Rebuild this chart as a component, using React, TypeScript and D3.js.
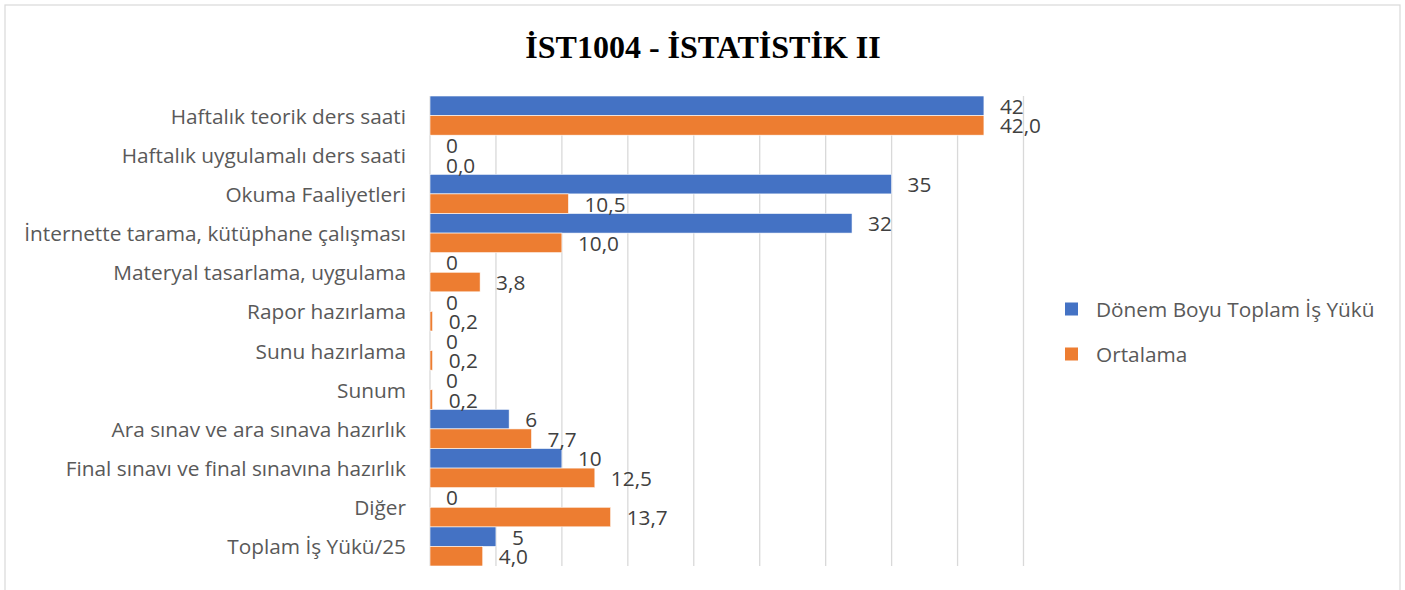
import React from "react";
import * as d3 from "d3";

const categories = [
  "Haftalık teorik ders saati",
  "Haftalık uygulamalı ders saati",
  "Okuma Faaliyetleri",
  "İnternette tarama, kütüphane çalışması",
  "Materyal tasarlama, uygulama",
  "Rapor hazırlama",
  "Sunu hazırlama",
  "Sunum",
  "Ara sınav ve ara sınava hazırlık",
  "Final sınavı ve final sınavına hazırlık",
  "Diğer",
  "Toplam İş Yükü/25",
];
const totalWorkload = [42, 0, 35, 32, 0, 0, 0, 0, 6, 10, 0, 5];
const average = [42.0, 0.0, 10.5, 10.0, 3.8, 0.2, 0.2, 0.2, 7.7, 12.5, 13.7, 4.0];
const seriesNames = ["Dönem Boyu Toplam İş Yükü", "Ortalama"];
const gridTicks = [0, 5, 10, 15, 20, 25, 30, 35, 40, 45];
const title = "İST1004 - İSTATİSTİK II";

const W = 1405;
const H = 590;
const colors = ["#4472C4", "#ED7D31"];
const FONT = "'Open Sans', sans-serif";
const FS = 20.8;

export default function App() {
  const x = d3.scaleLinear().domain([0, 45]).range([430, 1023.5]);
  const y = d3.scaleBand<string>().domain(categories).range([96, 566]).paddingInner(0).paddingOuter(0);
  const sub = d3.scaleBand<number>().domain([0, 1]).range([0, y.bandwidth()]).padding(0);
  const series = [totalWorkload, average];
  const fmt = [(v: number) => d3.format("d")(v), (v: number) => d3.format(".1f")(v).replace(".", ",")];

  return (
    <div style={{ position: "absolute", left: 0, top: 0 }}>
      <svg width={W} height={H} style={{ display: "block", background: "#fff" }}>
        <rect x={5} y={5} width={1395} height={600} fill="#fff" stroke="#d9d9d9" strokeWidth={1.2} />
        <text x={703} y={58} textAnchor="middle" fontFamily="'Liberation Serif', 'Times New Roman', serif" fontWeight="bold" fontSize={32} fill="#000">
          {title}
        </text>
        {gridTicks.map((t) => (
          <line key={t} x1={x(t)} x2={x(t)} y1={96} y2={566} stroke="#d9d9d9" strokeWidth={1.3} />
        ))}
        {series.map((vals, si) =>
          vals.map((v, i) => {
            const yy = (y(categories[i]) as number) + (sub(si) as number);
            return (
              <rect key={`${si}-${i}`} x={x(0)} y={yy} width={Math.max(0, x(v) - x(0))} height={sub.bandwidth()} fill={colors[si]} stroke="#fff" strokeWidth={0.6} />
            );
          })
        )}
        {categories.map((c) => (
          <text key={c} x={406} y={(y(c) as number) + y.bandwidth() / 2} textAnchor="end" dominantBaseline="central" fontFamily={FONT} fontSize={FS} fill="#595959">
            {c}
          </text>
        ))}
        {series.map((vals, si) =>
          vals.map((v, i) => {
            const yy = (y(categories[i]) as number) + (sub(si) as number) + sub.bandwidth() / 2;
            return (
              <text key={`l${si}-${i}`} x={x(v) + 16} y={yy} dominantBaseline="central" fontFamily={FONT} fontSize={FS} fill="#404040">
                {fmt[si](v)}
              </text>
            );
          })
        )}
        {seriesNames.map((n, i) => (
          <g key={n} transform={`translate(1065, ${309 + i * 45})`}>
            <rect x={0} y={-6.5} width={13} height={13} fill={colors[i]} />
            <text x={31} y={0} dominantBaseline="central" fontFamily={FONT} fontSize={FS} fill="#595959">
              {n}
            </text>
          </g>
        ))}
      </svg>
    </div>
  );
}
